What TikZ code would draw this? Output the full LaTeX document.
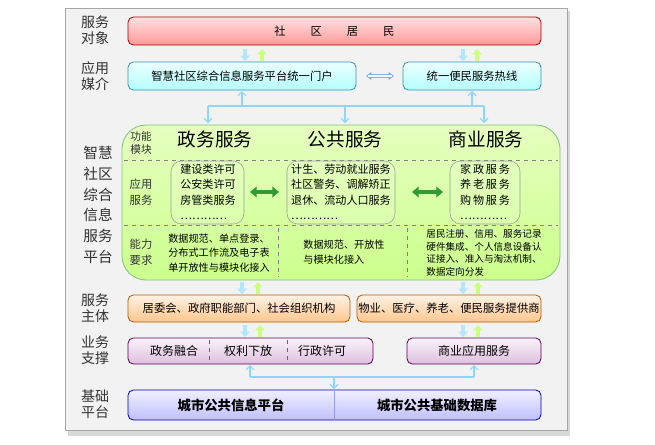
\documentclass[tikz,border=0pt]{standalone}
\usepackage{fontspec}
\setmainfont{Noto Sans CJK SC}
\usetikzlibrary{arrows.meta}
\begin{document}
\begin{tikzpicture}[x=0.75pt,y=-0.75pt,
 lbl/.style={font=\fontsize{10.5}{12}\selectfont,align=left,text=black!80},
 bar/.style={draw=#1!70!black,rounded corners=4pt,line width=0.6pt},
 txt/.style={font=\fontsize{8.5}{11}\selectfont,align=center},
 dn/.style={draw=cyan!30,line width=2.6pt,-{Triangle[length=4pt,width=7pt]}},
 up/.style={draw=green!40!yellow!50,line width=2.6pt,-{Triangle[length=4pt,width=7pt]}},
 conn/.style={draw=blue!35!cyan!45,line width=0.9pt,-{Straight Barb[length=3pt]}},
 garrow/.style={draw=green!50!black!80,line width=2.5pt,{Triangle[length=5pt,width=8pt]}-{Triangle[length=5pt,width=8pt]}}]
\useasboundingbox (0,0) rectangle (655,444);
\fill[white] (0,0) rectangle (655,444);
\fill[black!15] (68,11) rectangle (570,436);
\fill[gray!10] (65,8) rectangle (567,430);
\draw[black!35] (65,8) rectangle (567,430);
% row labels
\node[lbl] (l1) at (95,30) {服务\\对象};
\node[lbl] (l2) at (95,76) {应用\\媒介};
\node[lbl,font=\fontsize{11}{15.5}\selectfont] (l3) at (98,205) {智慧\\社区\\综合\\信息\\服务\\平台};
\node[lbl] (l4) at (95,308) {服务\\主体};
\node[lbl] (l5) at (95,350) {业务\\支撑};
\node[lbl] (l6) at (95,404) {基础\\平台};
% top bar
\draw[bar=red,top color=red!12,bottom color=red!40] (128,17) rectangle (541,45);
\node[txt] (res) at (334.5,31) {社\hspace{2.2em}区\hspace{2.2em}居\hspace{2.2em}民};
\draw[dn] (245,49) -- (245,61); \draw[up] (262,61) -- (262,49);
\draw[dn] (463,49) -- (463,61); \draw[up] (477,61) -- (477,49);
% media
\draw[bar=cyan,top color=cyan!8,bottom color=cyan!30] (128,62) rectangle (356,90);
\node[txt] (portal) at (242,76) {智慧社区综合信息服务平台统一门户};
\draw[bar=cyan,top color=cyan!8,bottom color=cyan!30] (403,62) rectangle (541,90);
\node[txt] (hot) at (472,76) {统一便民服务热线};
\draw[draw=cyan!60!blue!50,line width=2.4pt,{Triangle[length=4pt,width=6pt]}-{Triangle[length=4pt,width=6pt]}] (366,76) -- (394,76);
\draw[draw=cyan!8,line width=1.2pt,shorten <=1.5pt,shorten >=1.5pt] (366,76) -- (394,76);
\coordinate (hl) at (208,106); \coordinate (hr) at (484,106);
\draw[conn] (242,106) -- (242,91);
\draw[conn] (472,106) -- (472,91);
\draw[draw=blue!35!cyan!45,line width=0.9pt] (hl) -- (hr);
\draw[conn] (hl) -- (208,123); \draw[conn] (345,106) -- (345,123); \draw[conn] (hr) -- (484,123);
% green platform
\draw[draw=green!50!black!50,line width=0.6pt,rounded corners=18pt,top color=green!40!yellow!25,bottom color=green!45!yellow!45] (122,125) rectangle (560,280);
\draw[dashed,black!50] (124,160) -- (558,160);
\draw[dashed,black!50] (124,225) -- (558,225);
\draw[dashed,black!50] (278,228) -- (278,277);
\draw[dashed,black!50] (407,228) -- (407,277);
\node[lbl,font=\fontsize{8}{10}\selectfont] (fm) at (141,143) {功能\\模块};
\node[font=\fontsize{14}{16}\selectfont] (zw) at (215,139) {政务服务};
\node[font=\fontsize{14}{16}\selectfont] (gg) at (345,139) {公共服务};
\node[font=\fontsize{14}{16}\selectfont] (sy) at (486,139) {商业服务};
\node[lbl,font=\fontsize{8.5}{12}\selectfont] (yy) at (141,192) {应用\\服务};
\node[lbl,font=\fontsize{8.5}{12}\selectfont] (nl) at (141,252) {能力\\要求};
\draw[black!40,rounded corners=8pt,fill=white,fill opacity=0.15] (171,161) rectangle (244,224);
\draw[black!40,rounded corners=8pt,fill=white,fill opacity=0.15] (287,161) rectangle (395,224);
\draw[black!40,rounded corners=8pt,fill=white,fill opacity=0.15] (450,161) rectangle (520,224);
\node[txt,align=left,font=\fontsize{8.3}{11.5}\selectfont] (b1) at (208,192) {建设类许可\\公安类许可\\房管类服务\\…………};
\node[txt,align=left,font=\fontsize{8.3}{11.5}\selectfont] (b2) at (341,192) {计生、劳动就业服务\\社区警务、调解矫正\\退休、流动人口服务\\…………};
\node[txt,align=left,font=\fontsize{8.3}{11.5}\selectfont] (b3) at (485,192) {家\,政\,服\,务\\养\,老\,服\,务\\购\,物\,服\,务\\…………};
\draw[garrow] (250,192) -- (279,192);
\draw[garrow] (412,192) -- (443,192);
\node[txt,align=left,font=\fontsize{7.6}{11}\selectfont] (c1) at (219,253) {数据规范、单点登录、\\分布式工作流及电子表\\单开放性与模块化接入};
\node[txt,align=left,font=\fontsize{7.6}{11}\selectfont] (c2) at (344,252) {数据规范、开放性\\与模块化接入};
\node[txt,align=left,font=\fontsize{7.2}{9.5}\selectfont] (c3) at (484,253) {居民注册、信用、服务记录\\硬件集成、个人信息设备认\\证接入、准入与淘汰机制、\\数据定向分发};
\draw[dn] (242,282) -- (242,294); \draw[up] (258,294) -- (258,282);
\draw[dn] (463,282) -- (463,294); \draw[up] (478,294) -- (478,282);
% subjects
\draw[bar=orange,top color=orange!10,bottom color=orange!45] (128,295) rectangle (350,322);
\node[txt] (s1) at (239,308.5) {居委会、政府职能部门、社会组织机构};
\draw[bar=orange,top color=orange!10,bottom color=orange!45] (357,295) rectangle (541,322);
\node[txt] (s2) at (449,308.5) {物业、医疗、养老、便民服务提供商};
\draw[dn] (245,325) -- (245,337); \draw[up] (260,337) -- (260,325);
\draw[dn] (463,325) -- (463,337); \draw[up] (478,337) -- (478,325);
% support
\draw[bar=violet,top color=violet!5,bottom color=violet!25] (128,338) rectangle (373,364);
\draw[dashed,black!60] (209,340) -- (209,362);
\draw[dashed,black!60] (287,340) -- (287,362);
\node[txt,font=\fontsize{9}{11}\selectfont] (p1) at (174,351) {政务融合};
\node[txt,font=\fontsize{9}{11}\selectfont] (p2) at (248,351) {权利下放};
\node[txt,font=\fontsize{9}{11}\selectfont] (p3) at (322,351) {行政许可};
\draw[bar=violet,top color=violet!5,bottom color=violet!25] (407,338) rectangle (541,364);
\node[txt,font=\fontsize{9}{11}\selectfont] (p4) at (474,351) {商业应用服务};
\coordinate (gl) at (250,377); \coordinate (gr) at (474,377);
\draw[conn] (gl) -- (250,365); \draw[conn] (gr) -- (474,365);
\draw[draw=blue!35!cyan!45,line width=0.9pt] (gl) -- (gr);
\draw[conn] (334,377) -- (334,389);
% base
\draw[bar=blue,top color=blue!6,bottom color=blue!25] (128,390) rectangle (541,420);
\draw[blue!40] (334,390) -- (334,420);
\node[font=\bfseries\fontsize{10}{12}\selectfont] (f1) at (231,405) {城市公共信息平台};
\node[font=\bfseries\fontsize{10}{12}\selectfont] (f2) at (437,405) {城市公共基础数据库};
\end{tikzpicture}
\end{document}
